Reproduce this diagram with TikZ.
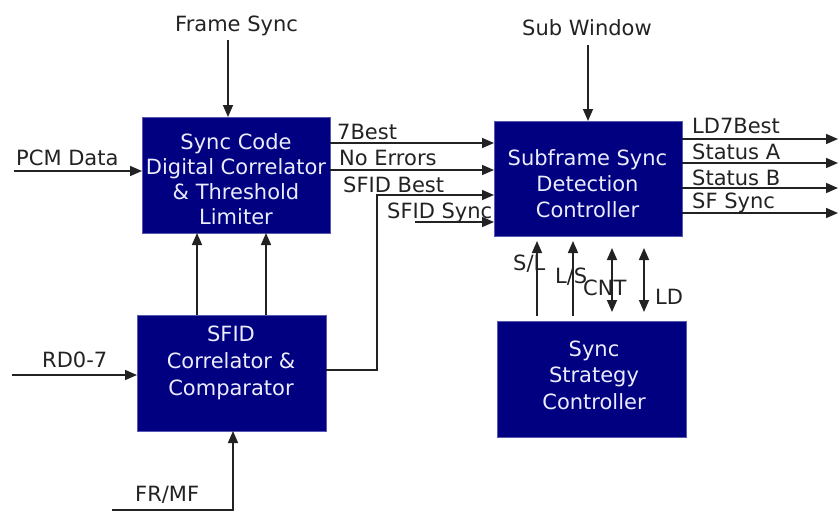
\documentclass[tikz,border=0pt]{standalone}
\usepackage{fontspec}
\setmainfont{DejaVu Sans}
\usetikzlibrary{arrows.meta}
\definecolor{boxblue}{HTML}{000080}
\definecolor{boxedge}{HTML}{5858B0}
\definecolor{boxtext}{HTML}{ECECFF}
\definecolor{linecol}{HTML}{222222}
\tikzset{
  box/.style={draw=boxedge, line width=0.8pt, fill=boxblue, inner sep=0pt, outer sep=0pt},
  boxtxt/.style={text=boxtext, align=center, inner sep=0pt, font=\fontsize{21pt}{26pt}\selectfont},
  lbl/.style={text=linecol, inner sep=0pt, anchor=base west, font=\fontsize{21pt}{25pt}\selectfont},
  arr/.style={draw=linecol, line width=1.6pt, -{Triangle[length=12pt,width=10pt]}},
  plain/.style={draw=linecol, line width=1.6pt},
  dbl/.style={draw=linecol, line width=1.6pt, {Triangle[length=12pt,width=10pt]}-{Triangle[length=12pt,width=10pt]}}
}
\begin{document}
\begin{tikzpicture}[x=1pt,y=-1pt]
\useasboundingbox (0,0) rectangle (839,512);
% boxes
\node[box, minimum width=188pt, minimum height=116pt] (b1) at (236,175) {};
\node[box, minimum width=189pt, minimum height=116pt] (b2) at (231.5,373) {};
\node[box, minimum width=188pt, minimum height=115pt] (b3) at (588,178.5) {};
\node[box, minimum width=189pt, minimum height=116pt] (b4) at (591.5,379) {};
% box texts
\node[boxtxt, font=\fontsize{21pt}{25pt}\selectfont] (t1) at (236,179) {Sync Code\\Digital Correlator\\\& Threshold\\Limiter};
\node[boxtxt, font=\fontsize{21pt}{27pt}\selectfont] (t2) at (231,363) {SFID\\Correlator \&\\Comparator};
\node[boxtxt] (t3) at (587.5,184) {Subframe Sync\\Detection\\Controller};
\node[boxtxt, font=\fontsize{21pt}{26.5pt}\selectfont] (t4) at (594,375) {Sync\\Strategy\\Controller};
% outside labels
\node[lbl] (lfs) at (175,31) {Frame Sync};
\node[lbl] (lsw) at (522,35) {Sub Window};
\node[lbl] (lpcm) at (16,165) {PCM Data};
\node[lbl] (lrd) at (42,367) {RD0-7};
\node[lbl] (lfr) at (135,501) {FR/MF};
\node[lbl] (l7b) at (337,139) {7Best};
\node[lbl] (lne) at (339,165) {No Errors};
\node[lbl] (lsb) at (343,192) {SFID Best};
\node[lbl] (lss) at (387,218) {SFID Sync};
\node[lbl] (lld) at (692,133) {LD7Best};
\node[lbl] (lsa) at (692,159) {Status A};
\node[lbl] (lsbb) at (692,185) {Status B};
\node[lbl] (lsf) at (692,208) {SF Sync};
\node[lbl] (lsl) at (513,270) {S/L};
\node[lbl] (lls) at (555,283) {L/S};
\node[lbl] (lcnt) at (583,295) {CNT};
\node[lbl] (lldd) at (655,304) {LD};
% free ends
\coordinate (fsA) at (228,40);
\coordinate (swA) at (588,45);
\coordinate (pcmA) at (14,171);
\coordinate (rdA) at (12,375);
\coordinate (frA) at (112,510);
\coordinate (ssA) at (415,222);
\coordinate (bend) at (377,370);
\coordinate (outE) at (838,0);
% inputs
\draw[arr] (fsA) -- (fsA |- b1.north);
\draw[arr] (swA) -- (b3.north);
\draw[arr] (pcmA) -- (pcmA -| b1.west);
\draw[arr] (rdA) -- (rdA -| b2.west);
\draw[arr] (frA) -| ([xshift=1.5pt]b2.south);
% b2 -> b1
\draw[arr] ([xshift=-34.5pt]b2.north) -- ([xshift=-34.5pt]b2.north |- b1.south);
\draw[arr] ([xshift=34.5pt]b2.north) -- ([xshift=34.5pt]b2.north |- b1.south);
% b1 -> b3
\draw[arr] (b1.east |- 0,143) -- (b3.west |- 0,143);
\draw[arr] (b1.east |- 0,170) -- (b3.west |- 0,170);
\draw[arr] (b2.east |- bend) -- (bend) |- (b3.west |- 0,195);
\draw[arr] (ssA) -- (ssA -| b3.west);
% outputs
\draw[arr] (b3.east |- 0,139) -- (outE |- 0,139);
\draw[arr] (b3.east |- 0,163) -- (outE |- 0,163);
\draw[arr] (b3.east |- 0,188) -- (outE |- 0,188);
\draw[arr] (b3.east |- 0,213) -- (outE |- 0,213);
% b4 <-> b3
\draw[arr, shorten <=5pt, shorten >=5pt] (b4.north -| 537,0) -- (b3.south -| 537,0);
\draw[arr, shorten <=5pt, shorten >=5pt] (b4.north -| 573,0) -- (b3.south -| 573,0);
\draw[dbl, shorten <=12pt, shorten >=9pt] (b3.south -| 612,0) -- (b4.north -| 612,0);
\draw[dbl, shorten <=12pt, shorten >=9pt] (b3.south -| 644,0) -- (b4.north -| 644,0);
\end{tikzpicture}
\end{document}
